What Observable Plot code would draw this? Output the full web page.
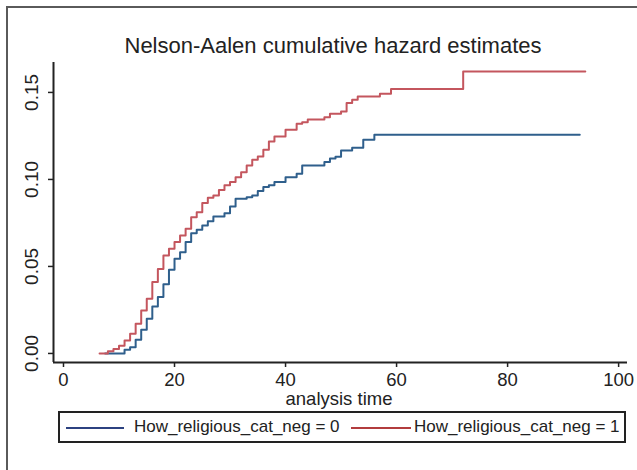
<!DOCTYPE html>
<html>
<head>
<meta charset="utf-8">
<script src="https://cdn.jsdelivr.net/npm/d3@7"></script>
<script src="https://cdn.jsdelivr.net/npm/@observablehq/plot@0.6"></script>
<style>
  body { margin: 0; background: #fff; font-family: "Liberation Sans", Arial, sans-serif; color: #222; }
  #wrap { position: relative; width: 637px; height: 470px; overflow: hidden; background: #fff; }
  #frame { position: absolute; left: 6px; top: 6px; width: 900px; height: 900px; border: 2px solid #5a5a5a; box-sizing: border-box; }
  #chart { position: absolute; left: 0; top: 0; }
  #title { position: absolute; left: 0; width: 666px; top: 35px; text-align: center; font-size: 22px; line-height: 22px; white-space: nowrap; }
  #xlabel { position: absolute; left: 0; width: 678px; top: 392px; text-align: center; font-size: 18.5px; line-height: 14px; white-space: nowrap; }
  #legend { position: absolute; left: 58px; top: 411px; width: 568px; height: 32px; border: 2px solid #222; box-sizing: border-box; }
  .sw { position: absolute; top: 14px; height: 0; border-top: 2px solid; }
  .lt { position: absolute; top: 5px; font-size: 17px; line-height: 17px; white-space: nowrap; }
</style>
</head>
<body>
<div id="wrap">
  <div id="frame"></div>
  <div id="chart"></div>
  <div id="title"></div>
  <div id="xlabel"></div>
  <div id="legend"></div>
</div>
<script>
const titleText = "Nelson-Aalen cumulative hazard estimates";
const xLabelText = "analysis time";
const groupLabels = ["How_religious_cat_neg = 0", "How_religious_cat_neg = 1"];
const lineColors = ["#2f5f8c", "#c4565e"];
const legendColors = ["#2c4180", "#b23c3e"];
const xTicks = [0, 20, 40, 60, 80, 100];
const yTicks = [0, 0.05, 0.10, 0.15];

// Group 0 (blue)
const time0   = [7.5, 11, 12, 13, 14, 15, 16, 17, 18, 19, 20, 21, 22, 23, 24, 25, 26, 27, 29, 30, 31, 33, 34, 35, 36, 37, 38, 40, 42, 43, 47, 48, 49, 50, 52, 54, 56, 93];
const hazard0 = [0, 0.0021, 0.0036, 0.0079, 0.0136, 0.0199, 0.027, 0.0324, 0.0397, 0.0481, 0.0544, 0.0582, 0.064, 0.0691, 0.0711, 0.0736, 0.076, 0.0787, 0.0806, 0.0845, 0.0889, 0.0898, 0.0908, 0.0933, 0.0956, 0.0966, 0.0985, 0.1013, 0.1033, 0.108, 0.11, 0.112, 0.113, 0.1167, 0.1182, 0.1228, 0.1257, 0.1257];

// Group 1 (red)
const time1   = [6.5, 8, 9, 10, 11, 12, 13, 14, 15, 16, 17, 18, 19, 20, 21, 22, 23, 24, 25, 26, 27, 28, 29, 30, 31, 32, 33, 34, 35, 36, 37, 38, 40, 42, 43, 44, 47, 48, 50, 51, 52, 53, 57, 59, 72, 94];
const hazard1 = [0, 0.0013, 0.0025, 0.0044, 0.0075, 0.0113, 0.0171, 0.0247, 0.0314, 0.041, 0.0485, 0.0563, 0.0601, 0.064, 0.0678, 0.0716, 0.0783, 0.0812, 0.0864, 0.0895, 0.0908, 0.094, 0.0966, 0.0985, 0.1013, 0.1042, 0.108, 0.1113, 0.1132, 0.117, 0.1218, 0.1247, 0.1285, 0.132, 0.1329, 0.1345, 0.1358, 0.1378, 0.139, 0.1439, 0.1458, 0.1477, 0.1492, 0.152, 0.162, 0.162];

const data = [
  ...time0.map((t, i) => ({t, h: hazard0[i], g: groupLabels[0]})),
  ...time1.map((t, i) => ({t, h: hazard1[i], g: groupLabels[1]}))
];

const xDomain = [-1.8, 101.6];
const yDomain = [-0.0052, 0.1672];

const chart = Plot.plot({
  width: 637,
  height: 410,
  marginTop: 62,
  marginBottom: 48,
  marginLeft: 53,
  marginRight: 10,
  style: {background: "transparent", fontFamily: "'Liberation Sans', Arial, sans-serif", fontSize: "19px", color: "#222"},
  x: {domain: xDomain},
  y: {domain: yDomain},
  color: {domain: groupLabels, range: lineColors},
  marks: [
    Plot.axisX(xTicks, {tickSize: 5, tickPadding: 5, label: null, fontSize: 18.5, strokeWidth: 1.5}),
    Plot.axisY(yTicks, {tickSize: 5, tickPadding: 11, tickRotate: -90, tickFormat: ".2f", label: null, fontSize: 19, strokeWidth: 1.5}),
    Plot.ruleX([xDomain[0]], {stroke: "#222", strokeWidth: 2}),
    Plot.ruleY([yDomain[0]], {stroke: "#222", strokeWidth: 2}),
    Plot.line(data, {x: "t", y: "h", z: "g", stroke: "g", curve: "step-after", strokeWidth: 2})
  ]
});
document.getElementById("chart").appendChild(chart);
document.getElementById("title").textContent = titleText;
document.getElementById("xlabel").textContent = xLabelText;

const legend = document.getElementById("legend");
const swatchPos = [[6, 58], [291, 60]];
const textPos = [74, 354];
groupLabels.forEach((lab, i) => {
  const sw = document.createElement("div");
  sw.className = "sw";
  sw.style.left = swatchPos[i][0] + "px";
  sw.style.width = swatchPos[i][1] + "px";
  sw.style.borderTopColor = legendColors[i];
  legend.appendChild(sw);
  const tx = document.createElement("div");
  tx.className = "lt";
  tx.style.left = textPos[i] + "px";
  tx.textContent = lab;
  legend.appendChild(tx);
});
</script>
</body>
</html>
